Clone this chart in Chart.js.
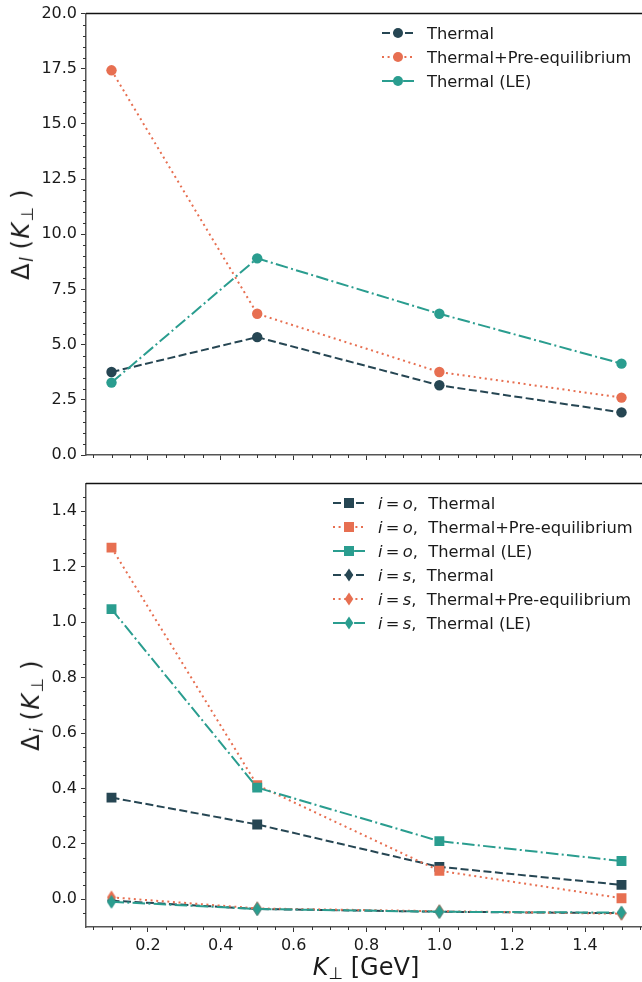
<!DOCTYPE html>
<html>
<head>
<meta charset="utf-8">
<script src="https://cdn.jsdelivr.net/npm/chart.js@4.4.0/dist/chart.umd.min.js"></script>
<style>
  body { margin: 0; background: #fff; overflow: hidden; font-family: "DejaVu Sans", sans-serif; color: #1a1a1a; }
  #wrap { position: relative; width: 642px; height: 982px; overflow: hidden; }
  canvas { position: absolute; left: 0; }
  #topChart { top: 0; }
  #bottomChart { top: 470px; }
  .ylab { position: absolute; font-size: 24px; letter-spacing: 1.5px; white-space: nowrap; transform: translate(-50%, -50%) rotate(-90deg); }
  .xlab { position: absolute; font-size: 24px; white-space: nowrap; transform: translate(-50%, -50%); }
  sub { font-size: 70%; vertical-align: -0.25em; }
  .legend { position: absolute; font-size: 16.3px; }
  .legend .row { height: 24px; display: flex; align-items: center; white-space: nowrap; }
  .legend svg { flex: none; }
</style>
</head>
<body>
<div id="wrap">
  <canvas id="topChart" width="660" height="470"></canvas>
  <canvas id="bottomChart" width="660" height="512"></canvas>
  <div class="ylab" style="left:22px; top:234px;">Δ<sub><i>l</i></sub>&#8201;(<i>K</i><sub>⊥</sub>&#8201;)</div>
  <div class="ylab" style="left:32px; top:705px;">Δ<sub><i>i</i></sub>&#8201;(<i>K</i><sub>⊥</sub>&#8201;)</div>
  <div class="xlab" style="left:366px; top:968px;"><i>K</i><sub>⊥</sub> [GeV]</div>
  <div class="legend" id="topLegend" style="left:382px; top:21px;"></div>
  <div class="legend" id="bottomLegend" style="left:333px; top:491px;"></div>
</div>

<script>
// データ
const kPerp = [0.1, 0.5, 1.0, 1.5];

// 上のパネル Δ_l
const thermalL   = [3.76, 5.34, 3.16, 1.93];
const preEqL     = [17.43, 6.40, 3.76, 2.60];
const thermalLEL = [3.28, 8.91, 6.40, 4.14];

// 下のパネル Δ_o, Δ_s
const thermalO   = [0.367, 0.270, 0.117, 0.052];
const preEqO     = [1.269, 0.412, 0.103, 0.004];
const thermalLEO = [1.047, 0.403, 0.210, 0.138];
const thermalS   = [-0.005, -0.035, -0.045, -0.050];
const preEqS     = [0.007, -0.033, -0.043, -0.052];
const thermalLES = [-0.009, -0.035, -0.045, -0.048];

// 目盛り
const xTicks = [0.2, 0.4, 0.6, 0.8, 1.0, 1.2, 1.4];
const topYTicks = [0, 2.5, 5, 7.5, 10, 12.5, 15, 17.5, 20];
const bottomYTicks = [0, 0.2, 0.4, 0.6, 0.8, 1.0, 1.2, 1.4];

const topLabels = ["Thermal", "Thermal+Pre-equilibrium", "Thermal (LE)"];
const bottomLabels = [
  "<i>i</i>&#8201;=&#8201;<i>o</i>,&nbsp; Thermal",
  "<i>i</i>&#8201;=&#8201;<i>o</i>,&nbsp; Thermal+Pre-equilibrium",
  "<i>i</i>&#8201;=&#8201;<i>o</i>,&nbsp; Thermal (LE)",
  "<i>i</i>&#8201;=&#8201;<i>s</i>,&nbsp; Thermal",
  "<i>i</i>&#8201;=&#8201;<i>s</i>,&nbsp; Thermal+Pre-equilibrium",
  "<i>i</i>&#8201;=&#8201;<i>s</i>,&nbsp; Thermal (LE)"
];

const DARK = '#264653', ORANGE = '#e76f51', TEAL = '#2a9d8f';
const DASHED = [8, 3.5], DOTTED = [2, 3.6], DASHDOT = [12.5, 3.3, 2, 3.3];

// 細いダイヤ形マーカー
function thinDiamond(color) {
  const c = document.createElement('canvas');
  c.width = 10; c.height = 15;
  const g = c.getContext('2d');
  g.fillStyle = color;
  g.beginPath();
  g.moveTo(5, 0.5); g.lineTo(9.5, 7.5); g.lineTo(5, 14.5); g.lineTo(0.5, 7.5);
  g.closePath(); g.fill();
  return c;
}

function makeDataset(label, values, color, dash, marker, order) {
  let pointStyle = 'circle', radius = 5.2;
  if (marker === 'square') { pointStyle = 'rect'; radius = 7; }
  if (marker === 'diamond') { pointStyle = thinDiamond(color); radius = 7; }
  return {
    label: label,
    data: kPerp.map((x, i) => ({ x: x, y: values[i] })),
    borderColor: color,
    backgroundColor: color,
    borderWidth: 2,
    borderDash: dash,
    pointStyle: pointStyle,
    pointRadius: radius,
    pointHoverRadius: radius,
    pointBorderWidth: 0,
    pointBackgroundColor: color,
    tension: 0,
    fill: false,
    order: order,
    marker: marker
  };
}

const tickFont = { family: "'DejaVu Sans', sans-serif", size: 16 };

function xScale(showLabels, height) {
  return {
    type: 'linear', min: 0.03, max: 1.57,
    grid: { display: true, drawOnChartArea: false, drawTicks: true, tickLength: 5, tickColor: '#333', tickWidth: 1 },
    border: { display: true, color: '#555', width: 1.5 },
    ticks: {
      padding: 4, color: '#1a1a1a', font: tickFont, includeBounds: false,
      callback: v => showLabels ? Number(v).toFixed(1) : ''
    },
    afterBuildTicks: s => { s.ticks = xTicks.map(v => ({ value: v })); },
    afterFit: s => { s.height = height; s.paddingLeft = 0; s.paddingRight = 0; }
  };
}

function yScale(min, max, ticksArr) {
  return {
    type: 'linear', min: min, max: max,
    grid: { display: true, drawOnChartArea: false, drawTicks: true, tickLength: 5, tickColor: '#333', tickWidth: 1 },
    border: { display: true, color: '#555', width: 1.5 },
    ticks: { padding: 4, color: '#1a1a1a', font: tickFont, callback: v => Number(v).toFixed(1) },
    afterBuildTicks: s => { s.ticks = ticksArr.map(v => ({ value: v })); },
    afterFit: s => { s.width = 86; }
  };
}

// 補助目盛りと上枠
const frameAndMinor = {
  id: 'frameAndMinor',
  afterDraw(chart, args, opts) {
    const { ctx, chartArea: a, scales: { x, y } } = chart;
    ctx.save();
    ctx.strokeStyle = '#333';
    ctx.lineWidth = 1;
    ctx.beginPath();
    for (let i = Math.ceil(x.min / opts.xStep); i * opts.xStep <= x.max; i++) {
      const v = i * opts.xStep;
      if (xTicks.some(t => Math.abs(t - v) < 1e-6)) continue;
      const px = Math.round(x.getPixelForValue(v)) + 0.5;
      ctx.moveTo(px, a.bottom); ctx.lineTo(px, a.bottom + 3);
    }
    for (let i = Math.ceil(y.min / opts.yStep); i * opts.yStep <= y.max + 1e-9; i++) {
      const v = i * opts.yStep;
      if (opts.yMajor.some(t => Math.abs(t - v) < 1e-6)) continue;
      if (Math.abs(v - y.min) < 1e-6 || Math.abs(v - y.max) < 1e-6) continue;
      const py = Math.round(y.getPixelForValue(v)) + 0.5;
      ctx.moveTo(a.left, py); ctx.lineTo(a.left - 3, py);
    }
    ctx.stroke();
    ctx.beginPath();
    ctx.strokeStyle = '#111';
    ctx.lineWidth = 1.5;
    ctx.moveTo(a.left, a.top); ctx.lineTo(a.right, a.top);
    ctx.stroke();
    ctx.restore();
  }
};

const topChart = new Chart(document.getElementById('topChart'), {
  type: 'line',
  data: {
    datasets: [
      makeDataset(topLabels[0], thermalL, DARK, DASHED, 'circle', 3),
      makeDataset(topLabels[1], preEqL, ORANGE, DOTTED, 'circle', 2),
      makeDataset(topLabels[2], thermalLEL, TEAL, DASHDOT, 'circle', 1)
    ]
  },
  options: {
    responsive: false, animation: false, devicePixelRatio: 1,
    layout: { padding: { top: 12, right: 13, bottom: 0, left: 0 } },
    plugins: { legend: { display: false }, tooltip: { enabled: false },
      frameAndMinor: { xStep: 0.05, yStep: 0.5, yMajor: topYTicks } },
    scales: { x: xScale(false, 15), y: yScale(0, 20, topYTicks) }
  },
  plugins: [frameAndMinor]
});

const bottomChart = new Chart(document.getElementById('bottomChart'), {
  type: 'line',
  data: {
    datasets: [
      makeDataset(bottomLabels[0], thermalO, DARK, DASHED, 'square', 6),
      makeDataset(bottomLabels[1], preEqO, ORANGE, DOTTED, 'square', 5),
      makeDataset(bottomLabels[2], thermalLEO, TEAL, DASHDOT, 'square', 4),
      makeDataset(bottomLabels[3], thermalS, DARK, DASHED, 'diamond', 3),
      makeDataset(bottomLabels[4], preEqS, ORANGE, DOTTED, 'diamond', 2),
      makeDataset(bottomLabels[5], thermalLES, TEAL, DASHDOT, 'diamond', 1)
    ]
  },
  options: {
    responsive: false, animation: false, devicePixelRatio: 1,
    layout: { padding: { top: 12, right: 13, bottom: 0, left: 0 } },
    plugins: { legend: { display: false }, tooltip: { enabled: false },
      frameAndMinor: { xStep: 0.05, yStep: 0.05, yMajor: bottomYTicks } },
    scales: { x: xScale(true, 55), y: yScale(-0.1, 1.5, bottomYTicks) }
  },
  plugins: [frameAndMinor]
});

// 凡例（HTML）
function buildLegend(chart, el) {
  chart.data.datasets.forEach(d => {
    const row = document.createElement('div');
    row.className = 'row';
    const dash = d.borderDash.join(' ');
    let mark = '';
    if (d.marker === 'circle') mark = `<circle cx="16" cy="12" r="5" fill="${d.borderColor}"/>`;
    if (d.marker === 'square') mark = `<rect x="11" y="7" width="10" height="10" fill="${d.borderColor}"/>`;
    if (d.marker === 'diamond') mark = `<polygon points="16,5.5 20.3,12 16,18.5 11.7,12" fill="${d.borderColor}"/>`;
    row.innerHTML = `<svg width="32" height="24"><line x1="0" y1="12" x2="32" y2="12" stroke="${d.borderColor}" stroke-width="2" stroke-dasharray="${dash}"/>${mark}</svg><span style="margin-left:13px">${d.label}</span>`;
    el.appendChild(row);
  });
}
buildLegend(topChart, document.getElementById('topLegend'));
buildLegend(bottomChart, document.getElementById('bottomLegend'));
</script>
</body>
</html>
